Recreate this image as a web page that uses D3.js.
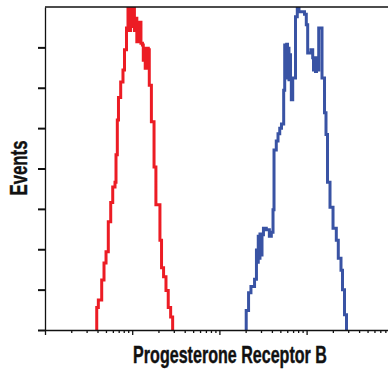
<!DOCTYPE html>
<html>
<head>
<meta charset="utf-8">
<script src="https://cdn.jsdelivr.net/npm/d3@7"></script>
<style>
  body { margin: 0; background: #fff; }
  svg { display: block; }
  .lbl { font-family: 'Liberation Sans Narrow', 'Arial Narrow', 'Liberation Sans', Arial, sans-serif; font-weight: bold; font-size: 23px; fill: #111; stroke: #111; stroke-width: 0.4px; }
</style>
</head>
<body>
<div id="chart"></div>
<script>
// red histogram (control)
const redX = [3.92, 3.92, 4.09, 4.47, 4.75, 5.01, 5.32, 5.67, 5.98, 6.35, 6.52, 6.75, 6.96, 7.38, 7.84, 8.16, 8.60, 8.95, 9.31, 9.56, 9.95, 10.2, 10.6, 10.9, 11.3, 11.7, 12.1, 12.6, 13.1, 13.4, 13.8, 14.1, 14.5, 15.3, 15.7, 16.6, 17.8, 18.7, 20.8, 21.7, 22.9, 24.4, 25.9, 27.6, 29.1];
const redY = [0, 28, 37, 62, 83, 97, 134, 158, 177, 183, 217, 260, 288, 307, 322, 347, 374, 402, 371, 402, 376, 399, 371, 386, 357, 371, 381, 355, 353, 334, 349, 324, 349, 347, 303, 258, 202, 155, 111, 77, 66, 49, 28, 16, 0];

// blue histogram (Progesterone Receptor B)
const blueX = [203, 203, 216, 230, 253, 266, 274, 279, 287, 292, 300, 308, 320, 345, 374, 394, 412, 423, 449, 470, 492, 515, 546, 561, 580, 591, 604, 617, 628, 640, 654, 668, 693, 746, 782, 818, 946, 992, 1029, 1123, 1175, 1200, 1232, 1265, 1299, 1334, 1377, 1502, 1605, 1669, 1737, 1855, 2009, 2191, 2309, 2480, 2580, 2720, 2868];
const blueY = [0, 24, 46, 54, 63, 99, 84, 116, 89, 119, 93, 118, 126, 124, 116, 121, 149, 223, 234, 243, 250, 255, 297, 353, 334, 354, 312, 349, 310, 341, 310, 285, 312, 388, 401, 394, 391, 378, 343, 347, 337, 322, 334, 320, 337, 322, 374, 312, 269, 242, 183, 152, 126, 111, 89, 74, 50, 19, 0];

const xMajorTicks = [1, 10, 100, 1000];
const yTicks = [0, 50, 100, 150, 200, 250, 300, 350];
const xTitle = 'Progesterone Receptor B';
const yTitle = 'Events';

const width = 388;
const height = 375;
const plot = { left: 45, top: 7, bottom: 330, right: 393.8 };

const svg = d3.select('#chart')
  .append('svg')
  .attr('width', width)
  .attr('height', height);

// Create scales
const xScale = d3.scaleLog().domain([1, 10000]).range([plot.left, plot.right]);
const yScale = d3.scaleLinear().domain([0, 400]).range([plot.bottom, plot.top]);

svg.append('clipPath').attr('id', 'clip')
  .append('rect')
  .attr('x', plot.left).attr('y', plot.top)
  .attr('width', plot.right - plot.left).attr('height', plot.bottom - plot.top);

// histograms
const line = d3.line()
  .x((d) => xScale(d[0]))
  .y((d) => yScale(d[1]))
  .curve(d3.curveStepAfter);

const series = [
  { xs: redX, ys: redY, color: '#ec1c24' },
  { xs: blueX, ys: blueY, color: '#3953a4' },
];

series.forEach((s) => {
  svg.append('path')
    .attr('clip-path', 'url(#clip)')
    .attr('d', line(s.xs.map((x, i) => [x, s.ys[i]])))
    .attr('fill', 'none')
    .attr('stroke', s.color)
    .attr('stroke-width', 3)
    .attr('stroke-linejoin', 'miter');
});

// frame: top border
svg.append('line')
  .attr('x1', plot.left).attr('x2', plot.right)
  .attr('y1', plot.top).attr('y2', plot.top)
  .attr('stroke', '#111').attr('stroke-width', 1.3);

// x axis (log, major + minor ticks)
const minorTicks = xScale.ticks().filter((t) => !xMajorTicks.includes(t) && t !== 10000);

const xMajor = svg.append('g')
  .attr('transform', 'translate(0,' + plot.bottom + ')')
  .call(d3.axisBottom(xScale).tickValues(xMajorTicks).tickSize(5).tickSizeOuter(0).tickFormat(''));
const xMinor = svg.append('g')
  .attr('transform', 'translate(0,' + plot.bottom + ')')
  .call(d3.axisBottom(xScale).tickValues(minorTicks).tickSize(3).tickSizeOuter(0).tickFormat(''));
xMinor.select('.domain').remove();

// y axis
const yAxis = svg.append('g')
  .attr('transform', 'translate(' + plot.left + ',0)')
  .call(d3.axisLeft(yScale).tickValues(yTicks).tickSize(7).tickSizeOuter(0).tickFormat(''));

[xMajor, xMinor, yAxis].forEach((g) => {
  g.selectAll('.domain').attr('stroke', '#111').attr('stroke-width', 1.3);
  g.selectAll('.tick line').attr('stroke', '#111').attr('stroke-width', 1.3);
});
yAxis.selectAll('.tick line').attr('stroke-width', 2);

// titles: condensed look, squeezed to the reference widths
function title(txt, tx, ty, rot, targetWidth) {
  const t = svg.append('text')
    .attr('class', 'lbl')
    .attr('text-anchor', 'middle')
    .text(txt);
  const w = t.node().getComputedTextLength();
  const k = Math.min(1, targetWidth / w);
  t.attr('transform', 'translate(' + tx + ',' + ty + ') rotate(' + rot + ') scale(' + k + ',1)');
}

title(xTitle, 230, 363, 0, 194);
title(yTitle, 27, 168, -90, 55);
</script>
</body>
</html>
